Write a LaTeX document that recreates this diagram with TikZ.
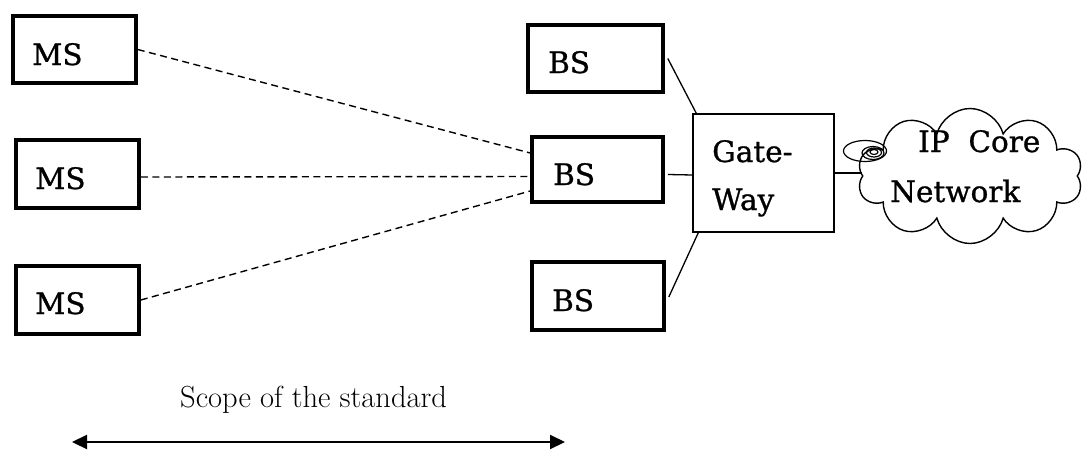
\documentclass[tikz,border=0pt]{standalone}
\usepackage{fontspec}
\newfontfamily\boxfont[FakeBold=0.9]{DejaVu Serif}
\usetikzlibrary{shapes.symbols,arrows.meta}
\begin{document}
\begin{tikzpicture}[x=1pt,y=-1pt,
  thickbox/.style={draw,line width=3.6pt,inner sep=0pt,minimum width=#1},
  lbl/.style={anchor=base west,inner sep=0pt,font=\boxfont\fontsize{29.5}{32}\selectfont},
  link/.style={line width=1.3pt},
  dlink/.style={line width=1.4pt,dash pattern=on 7pt off 4.5pt}]
\useasboundingbox (0,0) rectangle (1085,450);
% MS boxes
\node[thickbox=123pt,minimum height=67pt] (ms1) at (74.5,49.5) {};
\node[thickbox=123pt,minimum height=68pt] (ms2) at (77.5,174) {};
\node[thickbox=123pt,minimum height=68pt] (ms3) at (77.5,300) {};
\node[lbl] (tms1) at (32,65) {MS};
\node[lbl] (tms2) at (35,189) {MS};
\node[lbl] (tms3) at (35,314) {MS};
% BS boxes
\node[thickbox=135pt,minimum height=67pt] (bs1) at (595.5,58.5) {};
\node[thickbox=131pt,minimum height=65pt] (bs2) at (597.5,169.5) {};
\node[thickbox=132pt,minimum height=68pt] (bs3) at (598,296) {};
\node[lbl] (tbs1) at (548,73) {BS};
\node[lbl] (tbs2) at (553,185) {BS};
\node[lbl] (tbs3) at (552,311) {BS};
% Gateway
\node[draw,line width=1.4pt,inner sep=0pt,minimum width=141pt,minimum height=118pt] (gw) at (763.5,173) {};
\node[lbl] (tgw1) at (712,162) {Gate-};
\node[lbl] (tgw2) at (712,210) {Way};
% Cloud
\node[cloud,draw,line width=1.4pt,cloud puffs=10,aspect=1.7,inner sep=0pt,minimum width=225pt,minimum height=135pt] (cl) at (970,176) {};
\node[lbl] (tcl1) at (918,152) {IP\ \ Core};
\node[lbl] (tcl2) at (890,202) {Network};
\draw[line width=1.2pt] (865,151) ellipse [x radius=21.5pt,y radius=10.5pt];
\draw[line width=1.2pt] (873,153) ellipse [x radius=11pt,y radius=6.5pt];
\draw[line width=1.2pt] (874,152.5) ellipse [x radius=7.5pt,y radius=4.5pt];
\draw[line width=1.2pt] (874,152) ellipse [x radius=4pt,y radius=2.5pt];
% connectors
\draw[dlink] (ms1.east) -- ([yshift=16.5pt]bs2.west);
\draw[dlink] ([yshift=-3pt]ms2.east) -- ([yshift=-7pt]bs2.west);
\draw[dlink] (ms3.east) -- ([yshift=-21.5pt]bs2.west);
\draw[link] ([xshift=3pt]bs1.east) -- ([xshift=4pt]gw.north west);
\draw[link] ([xshift=3pt,yshift=-5pt]bs2.east) -- ([yshift=-2pt]gw.west);
\draw[link] ([xshift=3pt,yshift=-1pt]bs3.east) -- ([xshift=6pt]gw.south west);
\draw[link] (gw.east) -- (cl.west |- gw.east);
% scope
\node[anchor=base west,inner sep=0pt,font=\fontsize{30.5}{34}\selectfont] (scope) at (180,407) {Scope of the standard};
\coordinate (al) at (72,442);
\coordinate (ar) at (565,442);
\draw[line width=2.2pt,{Triangle[length=15pt,width=14pt]}-{Triangle[length=15pt,width=14pt]}] (al) -- (ar);
\end{tikzpicture}
\end{document}
